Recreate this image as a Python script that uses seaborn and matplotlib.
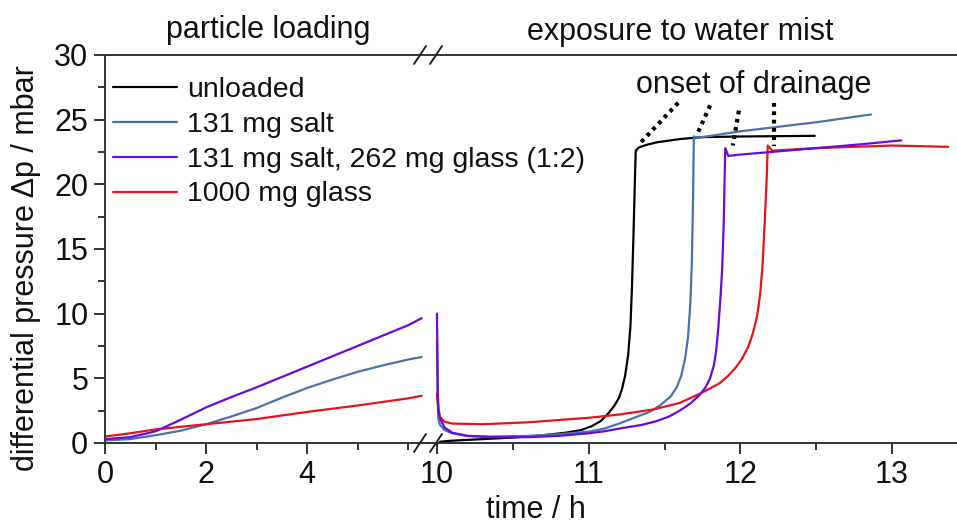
import numpy as np
import pandas as pd
import matplotlib
matplotlib.use("Agg")
import matplotlib.pyplot as plt
from matplotlib.lines import Line2D
import seaborn as sns

# ---------------- data ----------------
series_names = ["unloaded", "131 mg salt", "131 mg salt, 262 mg glass (1:2)", "1000 mg glass"]
series_colors = ["#000000", "#4a72ab", "#6a0ad6", "#e3151b"]

# particle loading (left segment)
load_t_salt = [0.0, 0.5, 1.0, 1.5, 2.0, 2.5, 3.0, 3.5, 4.0, 4.5, 5.0, 5.5, 6.0, 6.27]
load_p_salt = [0.2, 0.3, 0.6, 0.95, 1.45, 2.05, 2.7, 3.5, 4.25, 4.9, 5.5, 6.0, 6.45, 6.65]
load_t_mix = [0.0, 0.5, 1.0, 1.5, 2.0, 2.5, 3.0, 3.5, 4.0, 4.5, 5.0, 5.5, 6.0, 6.27]
load_p_mix = [0.3, 0.45, 0.9, 1.8, 2.75, 3.55, 4.3, 5.1, 5.9, 6.7, 7.5, 8.3, 9.1, 9.65]
load_t_glass = [0.0, 0.5, 1.0, 1.5, 2.0, 3.0, 4.0, 5.0, 6.0, 6.27]
load_p_glass = [0.5, 0.75, 1.05, 1.25, 1.45, 1.85, 2.4, 2.9, 3.45, 3.65]

# exposure to water mist (right segment)
mist_t_unloaded = [10.02, 10.1, 10.3, 10.5, 10.7, 10.85, 10.95, 11.02, 11.08, 11.13, 11.17, 11.2,
                   11.22, 11.24, 11.26, 11.275, 11.285, 11.295, 11.305, 11.31, 11.33, 11.38,
                   11.45, 11.6, 11.75, 12.0, 12.49]
mist_p_unloaded = [0.1, 0.18, 0.3, 0.42, 0.6, 0.8, 1.0, 1.3, 1.7, 2.3, 2.9, 3.5,
                   4.2, 5.2, 6.8, 9.0, 12.0, 16.0, 20.5, 22.6, 22.85, 23.05,
                   23.25, 23.5, 23.65, 23.7, 23.75]
mist_t_salt = [10.0, 10.005, 10.01, 10.02, 10.05, 10.1, 10.2, 10.35, 10.6, 10.8, 11.0, 11.1, 11.2,
               11.3, 11.4, 11.47, 11.54, 11.58, 11.61, 11.635, 11.655, 11.67, 11.68, 11.688,
               11.693, 11.72, 12.0, 12.5, 12.86]
mist_p_salt = [8.0, 3.0, 1.8, 1.4, 1.0, 0.75, 0.55, 0.5, 0.55, 0.68, 0.88, 1.1, 1.5,
               1.95, 2.4, 2.9, 3.6, 4.3, 5.2, 6.5, 8.2, 10.8, 14.0, 19.0,
               23.7, 23.6, 24.1, 24.8, 25.4]
mist_t_mix = [10.0, 10.005, 10.01, 10.02, 10.05, 10.1, 10.2, 10.35, 10.6, 10.8, 11.0, 11.1, 11.22,
              11.35, 11.45, 11.53, 11.6, 11.67, 11.73, 11.77, 11.8, 11.825, 11.84, 11.855, 11.87,
              11.88, 11.89, 11.897, 11.9, 11.92, 12.0, 12.2, 12.5, 12.8, 13.06]
mist_p_mix = [10.0, 4.0, 2.5, 1.9, 1.2, 0.8, 0.55, 0.45, 0.45, 0.55, 0.75, 0.9, 1.15,
              1.4, 1.7, 2.05, 2.5, 3.05, 3.7, 4.3, 5.0, 6.0, 7.1, 9.0, 11.5,
              13.5, 17.0, 21.0, 22.8, 22.2, 22.3, 22.5, 22.8, 23.1, 23.4]
mist_t_glass = [10.0, 10.01, 10.02, 10.05, 10.1, 10.3, 10.6, 11.0, 11.2, 11.43, 11.6, 11.74, 11.86,
                11.92, 11.97, 12.01, 12.05, 12.08, 12.11, 12.13, 12.145, 12.16, 12.175, 12.18,
                12.21, 12.5, 13.0, 13.37]
mist_p_glass = [3.8, 2.6, 2.0, 1.65, 1.5, 1.45, 1.6, 1.95, 2.2, 2.6, 3.1, 3.85, 4.6,
                5.2, 5.85, 6.5, 7.4, 8.4, 9.8, 11.5, 13.6, 17.0, 21.0, 23.0,
                22.6, 22.8, 23.0, 22.9]

# "onset of drainage" guide lines: (t_start, p_start) -> (t_end, p_end)
onset_t0 = [11.59, 11.80, 11.99, 12.22]
onset_p0 = [26.3, 26.1, 25.7, 26.3]
onset_t1 = [11.34, 11.72, 11.95, 12.22]
onset_p1 = [23.2, 24.0, 23.0, 23.0]

left_major = [0, 2, 4]
left_minor = [1, 3, 5, 6]
right_major = [10, 11, 12, 13]
right_minor = [10.5, 11.5, 12.5]
y_major = [0, 5, 10, 15, 20, 25, 30]

# ---------------- style ----------------
sns.set_theme(style="ticks")
plt.rcParams["font.family"] = ["Liberation Sans", "DejaVu Sans"]
plt.rcParams["axes.edgecolor"] = "#333333"
plt.rcParams["axes.linewidth"] = 1.4
plt.rcParams["text.color"] = "#111111"
plt.rcParams["xtick.labelcolor"] = "#111111"
plt.rcParams["ytick.labelcolor"] = "#111111"

W, H = 957, 528
fig = plt.figure(figsize=(W / 100, H / 100), dpi=100)

x0, xb, x1 = 105, 428, 957
ytop, ybot = 55, 443
axL = fig.add_axes([x0 / W, 1 - ybot / H, (xb - x0) / W, (ybot - ytop) / H])
axR = fig.add_axes([xb / W, 1 - ybot / H, (x1 - xb) / W, (ybot - ytop) / H])
for a in (axL, axR):
    a.patch.set_alpha(0)

lw = 1.6
left_data = [(load_t_salt, load_p_salt, series_colors[1]),
             (load_t_glass, load_p_glass, series_colors[3]),
             (load_t_mix, load_p_mix, series_colors[2])]
for t, p, c in left_data:
    sns.lineplot(x=t, y=p, ax=axL, color=c, lw=lw, sort=False, estimator=None)

right_data = [(mist_t_unloaded, mist_p_unloaded, series_colors[0]),
              (mist_t_salt, mist_p_salt, series_colors[1]),
              (mist_t_glass, mist_p_glass, series_colors[3]),
              (mist_t_mix, mist_p_mix, series_colors[2])]
for t, p, c in right_data:
    sns.lineplot(x=t, y=p, ax=axR, color=c, lw=lw, sort=False, estimator=None)

for a, b, c, d in zip(onset_t0, onset_p0, onset_t1, onset_p1):
    axR.plot([a, c], [b, d], color="black", lw=3, linestyle=(0, (0.9, 1.1)))
axR.text(12.09, 27.1, "onset of drainage", ha="center", va="baseline", fontsize=22)

# axes limits / ticks
axL.set_xlim(0, (xb - x0) / 50.5)
axR.set_xlim(10 - (437 - xb) / 152, 13 + (x1 - 892) / 152)
for a in (axL, axR):
    a.set_ylim(0, 30)
    a.set_xlabel("")
    a.set_ylabel("")
axL.set_xticks(left_major)
axL.set_xticks(left_minor, minor=True)
axR.set_xticks(right_major)
axR.set_xticks(right_minor, minor=True)
axL.set_yticks(y_major)
axL.set_yticks(np.arange(2.5, 30, 5), minor=True)
axR.set_yticks([])
axR.tick_params(axis="y", which="both", left=False, labelleft=False)

for a in (axL, axR):
    a.tick_params(axis="both", which="major", length=8, width=1.4, labelsize=22,
                  direction="out", color="#333333", pad=4)
    a.tick_params(axis="both", which="minor", length=5, width=1.4, direction="out",
                  color="#333333")
    a.spines["right"].set_visible(False)
    a.spines["top"].set_visible(True)
axR.spines["left"].set_visible(False)

# break marks
for xp in (420, 436):
    for yp in (ytop, ybot):
        fig.add_artist(Line2D([(xp - 6) / W, (xp + 6) / W],
                              [1 - (yp + 9) / H, 1 - (yp - 9) / H],
                              color="#222222", lw=1.4, transform=fig.transFigure))

# legend
handles = [Line2D([0], [0], color=c, lw=lw) for c in series_colors]
leg = fig.legend(handles, series_names, loc="upper left",
                 bbox_to_anchor=(113 / W, 1 - 77 / H), bbox_transform=fig.transFigure,
                 frameon=False, fontsize=20.5, handlelength=2.25, handletextpad=0.35,
                 labelspacing=0.31, borderpad=0, borderaxespad=0)

# titles and labels
fig.text(268 / W, 1 - 38 / H, "particle loading", ha="center", va="baseline", fontsize=22)
fig.text(680 / W, 1 - 40 / H, "exposure to water mist", ha="center", va="baseline", fontsize=22)
fig.text(536 / W, 1 - 510 / H, "time / h", ha="center", va="center", fontsize=22)
fig.text(26 / W, 1 - 268 / H, "differential pressure \u0394p / mbar", ha="center", va="center",
         rotation=90, fontsize=22)

fig.savefig("out.png", dpi=100)
